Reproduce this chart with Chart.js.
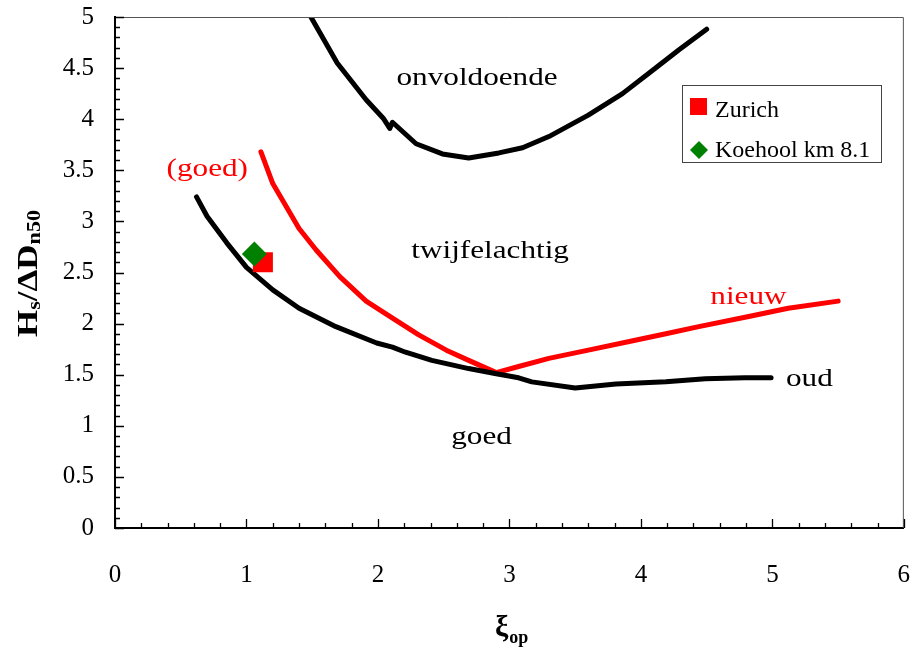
<!DOCTYPE html>
<html><head><meta charset="utf-8">
<script src="https://cdn.jsdelivr.net/npm/chart.js@4"></script>
<style>html,body{margin:0;padding:0;background:#fff;}canvas{display:block;}</style>
</head><body>
<canvas id="c" width="918" height="655"></canvas>
<script>
// ---- data ----
const onvoldoendeX = [1.49, 1.69, 1.91, 2.04, 2.09, 2.11, 2.29, 2.49, 2.69, 2.92, 3.10, 3.30, 3.60, 3.86, 4.08, 4.29, 4.50];
const onvoldoendeY = [5.00, 4.55, 4.19, 4.01, 3.91, 3.97, 3.76, 3.66, 3.62, 3.67, 3.72, 3.83, 4.04, 4.25, 4.47, 4.68, 4.88];
const oudX = [0.62, 0.70, 0.85, 1.00, 1.20, 1.40, 1.68, 1.99, 2.11, 2.21, 2.41, 2.69, 2.90, 3.07, 3.17, 3.50, 3.81, 4.19, 4.49, 4.79, 4.99];
const oudY = [3.24, 3.05, 2.79, 2.55, 2.33, 2.15, 1.97, 1.81, 1.77, 1.72, 1.64, 1.56, 1.51, 1.47, 1.43, 1.37, 1.41, 1.43, 1.46, 1.47, 1.47];
const nieuwX = [1.11, 1.20, 1.40, 1.53, 1.71, 1.91, 2.09, 2.31, 2.52, 2.69, 2.90, 3.07, 3.30, 3.60, 3.93, 4.19, 4.44, 4.82, 5.12, 5.50];
const nieuwY = [3.68, 3.37, 2.93, 2.72, 2.46, 2.22, 2.07, 1.89, 1.74, 1.64, 1.52, 1.58, 1.66, 1.74, 1.83, 1.90, 1.97, 2.07, 2.15, 2.22];
const zurichX = [1.125];
const zurichY = [2.60];
const koehoolX = [1.06];
const koehoolY = [2.68];
const xTickValues = [0, 1, 2, 3, 4, 5, 6];
const yTickValues = [0, 0.5, 1, 1.5, 2, 2.5, 3, 3.5, 4, 4.5, 5];
const legendNames = ['Zurich', 'Koehool km 8.1'];
const regionTexts = ['onvoldoende', 'twijfelachtig', 'goed', 'oud', 'nieuw', '(goed)'];

const pts = (xs, ys) => xs.map((x, i) => ({x: x, y: ys[i]}));
const SERIF = '"Liberation Serif", "Times New Roman", serif';

// label anchor positions (data coordinates: center x, baseline y) and colours
const regionLabelCfg = [
  {x: 2.754, y: 4.335, color: '#000'},
  {x: 2.853, y: 2.642, color: '#000'},
  {x: 2.788, y: 0.822, color: '#000'},
  {x: 5.281, y: 1.385, color: '#000'},
  {x: 4.818, y: 2.192, color: '#f00'},
  {x: 0.702, y: 3.444, color: '#f00'}
];

const decorPlugin = {
  id: 'decor',
  afterDraw(chart) {
    const ctx = chart.ctx;
    const xs = chart.scales.x, ys = chart.scales.y;
    const a = chart.chartArea;
    ctx.save();
    // top/right frame
    ctx.strokeStyle = '#555';
    ctx.lineWidth = 1;
    ctx.beginPath();
    ctx.moveTo(a.left, a.top + 0.5); ctx.lineTo(a.right - 0.5, a.top + 0.5); ctx.lineTo(a.right - 0.5, a.bottom);
    ctx.stroke();
    // inner ticks
    ctx.strokeStyle = '#000';
    ctx.lineWidth = 1.3;
    ctx.beginPath();
    for (let i = 0; i <= 50; i++) {
      const v = i / 10;
      const py = Math.round(ys.getPixelForValue(v)) + 0.5;
      const len = (i % 5 === 0) ? 9 : 5;
      ctx.moveTo(a.left, py); ctx.lineTo(a.left + len, py);
    }
    for (let i = 0; i <= 30; i++) {
      const v = i / 5;
      const px = Math.round(xs.getPixelForValue(v)) + 0.5;
      const len = (i % 5 === 0) ? 9 : 5;
      ctx.moveTo(px, a.bottom); ctx.lineTo(px, a.bottom - len);
    }
    ctx.stroke();

    // region labels (horizontally stretched like the original text boxes)
    ctx.font = '26px ' + SERIF;
    ctx.textAlign = 'center';
    ctx.textBaseline = 'alphabetic';
    regionTexts.forEach((t, i) => {
      const c = regionLabelCfg[i];
      const px = xs.getPixelForValue(c.x), py = ys.getPixelForValue(c.y);
      ctx.save();
      ctx.translate(px, py);
      ctx.scale(1.2, 1);
      ctx.fillStyle = c.color;
      ctx.fillText(t, 0, 0);
      ctx.restore();
    });

    // legend
    ctx.fillStyle = '#fff';
    ctx.fillRect(682, 85, 200, 78);
    ctx.strokeStyle = '#444';
    ctx.lineWidth = 1;
    ctx.strokeRect(682.5, 85.5, 199, 77);
    ctx.fillStyle = '#f00';
    ctx.fillRect(690, 98, 17, 17);
    ctx.fillStyle = '#008000';
    ctx.beginPath();
    ctx.moveTo(699, 141); ctx.lineTo(708, 150); ctx.lineTo(699, 159); ctx.lineTo(690, 150); ctx.closePath();
    ctx.fill();
    ctx.fillStyle = '#000';
    ctx.font = '24px ' + SERIF;
    ctx.textAlign = 'left';
    ctx.fillText(legendNames[0], 715, 117);
    ctx.fillText(legendNames[1], 715, 157);

    // x title: ξ op
    ctx.font = 'bold 30px ' + SERIF;
    ctx.fillText('ξ', 495, 636);
    const wXi = ctx.measureText('ξ').width;
    ctx.font = 'bold 18px ' + SERIF;
    ctx.fillText('op', 495 + wXi + 1, 643);

    // y title: Hs/ΔDn50 rotated
    const parts = [
      {t: 'H', f: 'bold 30px ' + SERIF, dy: 0},
      {t: 's', f: 'bold 19px ' + SERIF, dy: 3},
      {t: '/\u0394D', f: 'bold 30px ' + SERIF, dy: 0},
      {t: 'n50', f: 'bold 19px ' + SERIF, dy: 3}
    ];
    let total = 0;
    parts.forEach(p => { ctx.font = p.f; p.w = ctx.measureText(p.t).width; total += p.w; });
    const sx = 127 / total;
    ctx.save();
    ctx.translate(37, 337);
    ctx.rotate(-Math.PI / 2);
    ctx.scale(sx, 1);
    let cx = 0;
    parts.forEach(p => { ctx.font = p.f; ctx.fillText(p.t, cx, p.dy); cx += p.w; });
    ctx.restore();
    ctx.restore();
  }
};

new Chart(document.getElementById('c'), {
  type: 'scatter',
  data: {
    datasets: [
      {label: legendNames[1], data: pts(koehoolX, koehoolY), pointStyle: 'rectRot', pointRadius: 12.5,
        backgroundColor: '#008000', borderColor: '#008000', borderWidth: 0},
      {label: legendNames[0], data: pts(zurichX, zurichY), pointStyle: 'rect', pointRadius: 14.14,
        backgroundColor: '#ff0000', borderColor: '#ff0000', borderWidth: 0},
      {label: 'onvoldoende', data: pts(onvoldoendeX, onvoldoendeY), showLine: true, pointRadius: 0,
        borderColor: '#000', borderWidth: 5, tension: 0, borderJoinStyle: 'round', borderCapStyle: 'round'},
      {label: 'oud', data: pts(oudX, oudY), showLine: true, pointRadius: 0,
        borderColor: '#000', borderWidth: 5, tension: 0, borderJoinStyle: 'round', borderCapStyle: 'round'},
      {label: 'nieuw', data: pts(nieuwX, nieuwY), showLine: true, pointRadius: 0,
        borderColor: '#ff0000', borderWidth: 5, tension: 0, borderJoinStyle: 'round', borderCapStyle: 'round'}
    ]
  },
  options: {
    responsive: false,
    animation: false,
    devicePixelRatio: 1,
    layout: {padding: {top: 17, right: 12, left: 0, bottom: 0}},
    plugins: {legend: {display: false}, tooltip: {enabled: false}},
    scales: {
      x: {
        type: 'linear', min: 0, max: 6,
        afterBuildTicks: s => { s.ticks = xTickValues.map(v => ({value: v})); },
        afterFit: s => { s.height = 127; s.paddingLeft = 0; s.paddingRight = 0; },
        grid: {display: false, drawTicks: false},
        border: {display: true, color: '#000', width: 2},
        ticks: {color: '#000', padding: 32, font: {family: SERIF, size: 25}, maxRotation: 0,
          callback: v => String(v)}
      },
      y: {
        type: 'linear', min: 0, max: 5,
        afterBuildTicks: s => { s.ticks = yTickValues.map(v => ({value: v})); },
        afterFit: s => { s.width = 115; s.paddingTop = 0; s.paddingBottom = 0; },
        grid: {display: false, drawTicks: false},
        border: {display: true, color: '#000', width: 2},
        ticks: {color: '#000', padding: 21, font: {family: SERIF, size: 25},
          callback: v => String(v)}
      }
    }
  },
  plugins: [decorPlugin]
});
</script>
</body></html>
